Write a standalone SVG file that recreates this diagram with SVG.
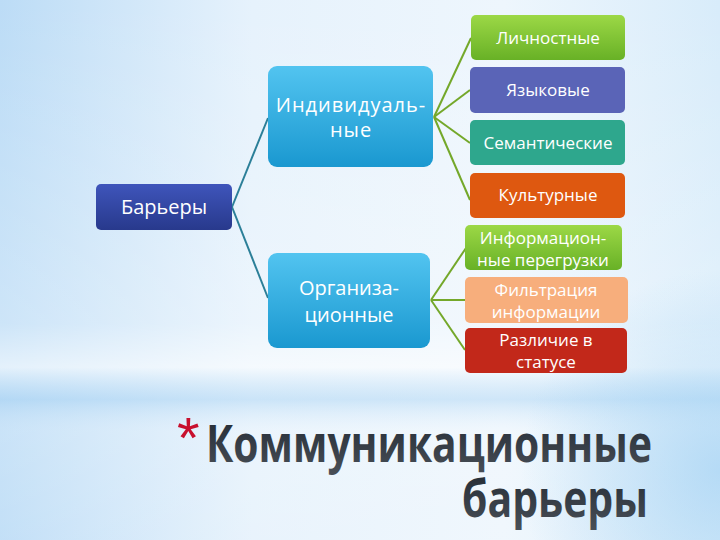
<svg xmlns="http://www.w3.org/2000/svg" width="720" height="540" viewBox="0 0 720 540">
<defs>
<linearGradient id="bgH" x1="0" y1="0" x2="1" y2="0">
<stop offset="0" stop-color="#bcdcf6"/>
<stop offset="0.35" stop-color="#e6f2fc"/>
<stop offset="0.7" stop-color="#eef6fd"/>
<stop offset="1" stop-color="#d8ecfa"/>
</linearGradient>
<linearGradient id="bgV" x1="0" y1="0" x2="0" y2="1">
<stop offset="0" stop-color="#ffffff" stop-opacity="0"/>
<stop offset="0.6" stop-color="#ffffff" stop-opacity="0.25"/>
<stop offset="0.68" stop-color="#ffffff" stop-opacity="0.6"/>
<stop offset="0.74" stop-color="#a9d3f3" stop-opacity="0.45"/>
<stop offset="0.8" stop-color="#ffffff" stop-opacity="0.2"/>
<stop offset="1" stop-color="#ffffff" stop-opacity="0.1"/>
</linearGradient>
<radialGradient id="bgBR" cx="720" cy="470" r="200" gradientUnits="userSpaceOnUse">
<stop offset="0" stop-color="#a8d4f4" stop-opacity="0.75"/>
<stop offset="1" stop-color="#a8d4f4" stop-opacity="0"/>
</radialGradient>
<linearGradient id="gBlue" x1="0" y1="0" x2="0" y2="1">
<stop offset="0" stop-color="#52c4f0"/>
<stop offset="1" stop-color="#1a98d0"/>
</linearGradient>
<linearGradient id="gNavy" x1="0" y1="0" x2="0" y2="1">
<stop offset="0" stop-color="#3f55bb"/>
<stop offset="1" stop-color="#28398c"/>
</linearGradient>
<linearGradient id="gGreen" x1="0" y1="0" x2="0" y2="1">
<stop offset="0" stop-color="#9cd846"/>
<stop offset="1" stop-color="#68b126"/>
</linearGradient>
<linearGradient id="gTitle" x1="0" y1="0" x2="0" y2="1">
<stop offset="0" stop-color="#1e2630"/>
<stop offset="1" stop-color="#4a5058"/>
</linearGradient>
</defs>
<style>
.lbl{font-family:"Open Sans","Liberation Sans",sans-serif;fill:#ffffff;text-anchor:middle;font-size:17px;}
.big{font-family:"Open Sans","Liberation Sans",sans-serif;fill:#ffffff;text-anchor:middle;font-size:20px;}
.title{font-family:"Open Sans","Liberation Sans",sans-serif;font-weight:700;fill:url(#gTitle);font-size:52px;}
.c1{stroke:#2b7f98;stroke-width:2;fill:none;}
.c2{stroke:#74a82a;stroke-width:2;fill:none;}
</style>
<rect x="0" y="0" width="720" height="540" fill="url(#bgH)"/>
<rect x="0" y="0" width="720" height="540" fill="url(#bgV)"/>
<rect x="0" y="0" width="720" height="540" fill="url(#bgBR)"/>

<g id="connectors">
<path class="c1" d="M232,207 L268,118"/>
<path class="c1" d="M232,207 L268,298"/>
<path class="c2" d="M434,117 L471,38"/>
<path class="c2" d="M434,117 L470,90"/>
<path class="c2" d="M434,117 L470,143"/>
<path class="c2" d="M434,117 L470,200"/>
<path class="c2" d="M431,300 L466,248"/>
<path class="c2" d="M431,300 L466,300"/>
<path class="c2" d="M431,300 L465,350"/>
</g>

<g id="barery">
<rect x="96" y="184" width="136" height="46" rx="5" fill="url(#gNavy)"/>
<text class="big" x="164" y="214">Барьеры</text>
</g>
<g id="individ">
<rect x="268" y="66" width="165" height="101" rx="9" fill="url(#gBlue)"/>
<text class="big" x="351" y="112" letter-spacing="1">Индивидуаль-</text>
<text class="big" x="351" y="137" letter-spacing="1">ные</text>
</g>
<g id="org">
<rect x="268" y="253" width="162" height="95" rx="9" fill="url(#gBlue)"/>
<text class="big" x="349" y="295">Организа-</text>
<text class="big" x="349" y="322">ционные</text>
</g>
<g id="lichn">
<rect x="471" y="15" width="154" height="45" rx="5" fill="url(#gGreen)"/>
<text class="lbl" x="548" y="44">Личностные</text>
</g>
<g id="yazyk">
<rect x="470" y="67" width="155" height="46" rx="5" fill="#5a64b7"/>
<text class="lbl" x="548" y="96">Языковые</text>
</g>
<g id="semant">
<rect x="470" y="120" width="155" height="45" rx="5" fill="#2ea78d"/>
<text class="lbl" x="548" y="149">Семантические</text>
</g>
<g id="kult">
<rect x="470" y="173" width="155" height="45" rx="5" fill="#de5810"/>
<text class="lbl" x="548" y="201">Культурные</text>
</g>
<g id="inform">
<rect x="465" y="225" width="157" height="45" rx="5" fill="url(#gGreen)"/>
<text class="lbl" x="543" y="244">Информацион-</text>
<text class="lbl" x="543" y="266">ные перегрузки</text>
</g>
<g id="filtr">
<rect x="465" y="277" width="163" height="46" rx="5" fill="#f7ae7c"/>
<text class="lbl" x="546" y="296">Фильтрация</text>
<text class="lbl" x="546" y="318">информации</text>
</g>
<g id="razl">
<rect x="465" y="328" width="162" height="45" rx="5" fill="#c2281a"/>
<text class="lbl" x="546" y="346">Различие в</text>
<text class="lbl" x="546" y="368">статусе</text>
</g>

<g id="title">
<text x="177" y="458" font-family="'Liberation Sans',sans-serif" font-size="58" fill="#c8102e">*</text>
<text class="title" x="206" y="462" textLength="446" lengthAdjust="spacingAndGlyphs">Коммуникационные</text>
<text class="title" x="648" y="517" text-anchor="end" textLength="186" lengthAdjust="spacingAndGlyphs">барьеры</text>
</g>
</svg>
